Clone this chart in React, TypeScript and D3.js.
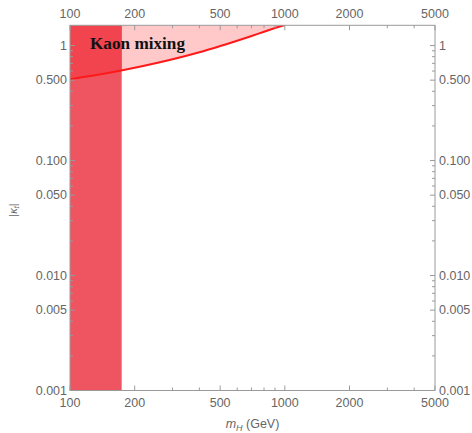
import React from "react";
import * as d3 from "d3";

// top-quark mass band (GeV)
const bandMass = [100, 174];

// kaon mixing bound on |kappa_t| vs m_H
const curveMass = [100, 150, 200, 300, 400, 500, 600, 700, 800, 900, 1000];
const curveKappa = [0.51, 0.577, 0.641, 0.76, 0.875, 0.99, 1.1, 1.21, 1.32, 1.42, 1.51];

const xMajor = [100, 200, 500, 1000, 2000, 5000];
const xMinor = [300, 400, 600, 700, 800, 900, 3000, 4000];
const yMajor = [0.001, 0.005, 0.01, 0.05, 0.1, 0.5, 1];
const yMajorLabels = ["0.001", "0.005", "0.010", "0.050", "0.100", "0.500", "1"];
const yMinor = [
  0.002, 0.003, 0.004, 0.006, 0.007, 0.008, 0.009,
  0.02, 0.03, 0.04, 0.06, 0.07, 0.08, 0.09,
  0.2, 0.3, 0.4, 0.6, 0.7, 0.8, 0.9,
];

const W = 472;
const H = 433;
const left = 70, right = 435, top = 25.3, bottom = 390.5;

export default function App() {
  const x = d3.scaleLog().domain([100, 5000]).range([left, right]);
  const y = d3.scaleLog().domain([0.001, 1.5]).range([bottom, top]);

  const pts = curveMass.map((m, i) => [m, curveKappa[i]] as [number, number]);

  const line = d3.line<[number, number]>()
    .x(d => x(d[0]))
    .y(d => y(d[1]))
    .curve(d3.curveMonotoneX);

  const area = d3.area<[number, number]>()
    .x(d => x(d[0]))
    .y0(y(1.5))
    .y1(d => y(d[1]))
    .curve(d3.curveMonotoneX);

  const tickFont = { fontFamily: "Liberation Sans, Arial, sans-serif", fontSize: 12.5, fill: "#666" };
  const axisCol = "#9a9a9a";

  return (
    <svg width={W} height={H} style={{ position: "absolute", left: 0, top: 0, background: "#fff" }}>
      <defs>
        <clipPath id="plot">
          <rect x={left} y={top} width={right - left} height={bottom - top} />
        </clipPath>
        <clipPath id="band">
          <rect x={x(bandMass[0])} y={top} width={x(bandMass[1]) - x(bandMass[0])} height={bottom - top} />
        </clipPath>
      </defs>

      <g clipPath="url(#plot)">
        <path d={area(pts) || ""} fill="#ffc9c9" />
        <rect
          x={x(bandMass[0])}
          y={top}
          width={x(bandMass[1]) - x(bandMass[0])}
          height={bottom - top}
          fill="#ef5561"
        />
        <g clipPath="url(#band)">
          <path d={area(pts) || ""} fill="#f2444f" />
        </g>
        <path d={line(pts) || ""} fill="none" stroke="#ff1a1a" strokeWidth={2} />
      </g>

      {/* frame */}
      <rect x={left} y={top} width={right - left} height={bottom - top} fill="none" stroke={axisCol} strokeWidth={1} />

      {/* x ticks */}
      {xMajor.map(v => (
        <g key={"xM" + v}>
          <line x1={x(v)} x2={x(v)} y1={bottom} y2={bottom - 5} stroke={axisCol} />
          <line x1={x(v)} x2={x(v)} y1={top} y2={top + 5} stroke={axisCol} />
          <text x={x(v)} y={bottom + 16} textAnchor="middle" {...tickFont}>{v}</text>
          <text x={x(v)} y={top - 7} textAnchor="middle" {...tickFont}>{v}</text>
        </g>
      ))}
      {xMinor.map(v => (
        <g key={"xm" + v}>
          <line x1={x(v)} x2={x(v)} y1={bottom} y2={bottom - 3} stroke={axisCol} />
          <line x1={x(v)} x2={x(v)} y1={top} y2={top + 3} stroke={axisCol} />
        </g>
      ))}

      {/* y ticks */}
      {yMajor.map((v, i) => (
        <g key={"yM" + v}>
          <line x1={left} x2={left + 5} y1={y(v)} y2={y(v)} stroke={axisCol} />
          <line x1={right} x2={right - 5} y1={y(v)} y2={y(v)} stroke={axisCol} />
          <text x={left - 3} y={y(v) + 4} textAnchor="end" {...tickFont}>{yMajorLabels[i]}</text>
          <text x={right + 4} y={y(v) + 4} textAnchor="start" {...tickFont}>{yMajorLabels[i]}</text>
        </g>
      ))}
      {yMinor.map(v => (
        <g key={"ym" + v}>
          <line x1={left} x2={left + 3} y1={y(v)} y2={y(v)} stroke={axisCol} />
          <line x1={right} x2={right - 3} y1={y(v)} y2={y(v)} stroke={axisCol} />
        </g>
      ))}

      {/* labels */}
      <text x={(left + right) / 2} y={428} textAnchor="middle" {...tickFont} fontSize={12.5}>
        <tspan fontStyle="italic">m</tspan>
        <tspan fontStyle="italic" fontSize={9} dy={3}>H</tspan>
        <tspan dy={-3}> (GeV)</tspan>
      </text>
      <text
        transform={`translate(17, 210) rotate(-90)`}
        textAnchor="middle"
        {...tickFont}
        fontSize={11}
      >
        |<tspan fontStyle="italic">κ</tspan>
        <tspan fontStyle="italic" fontSize={8} dy={2}>t</tspan>
        <tspan dy={-2}>|</tspan>
      </text>

      <text
        x={90}
        y={49}
        fontFamily="Liberation Serif, Times New Roman, serif"
        fontWeight="bold"
        fontSize={17.2}
        fill="#111"
      >
        Kaon mixing
      </text>
    </svg>
  );
}
